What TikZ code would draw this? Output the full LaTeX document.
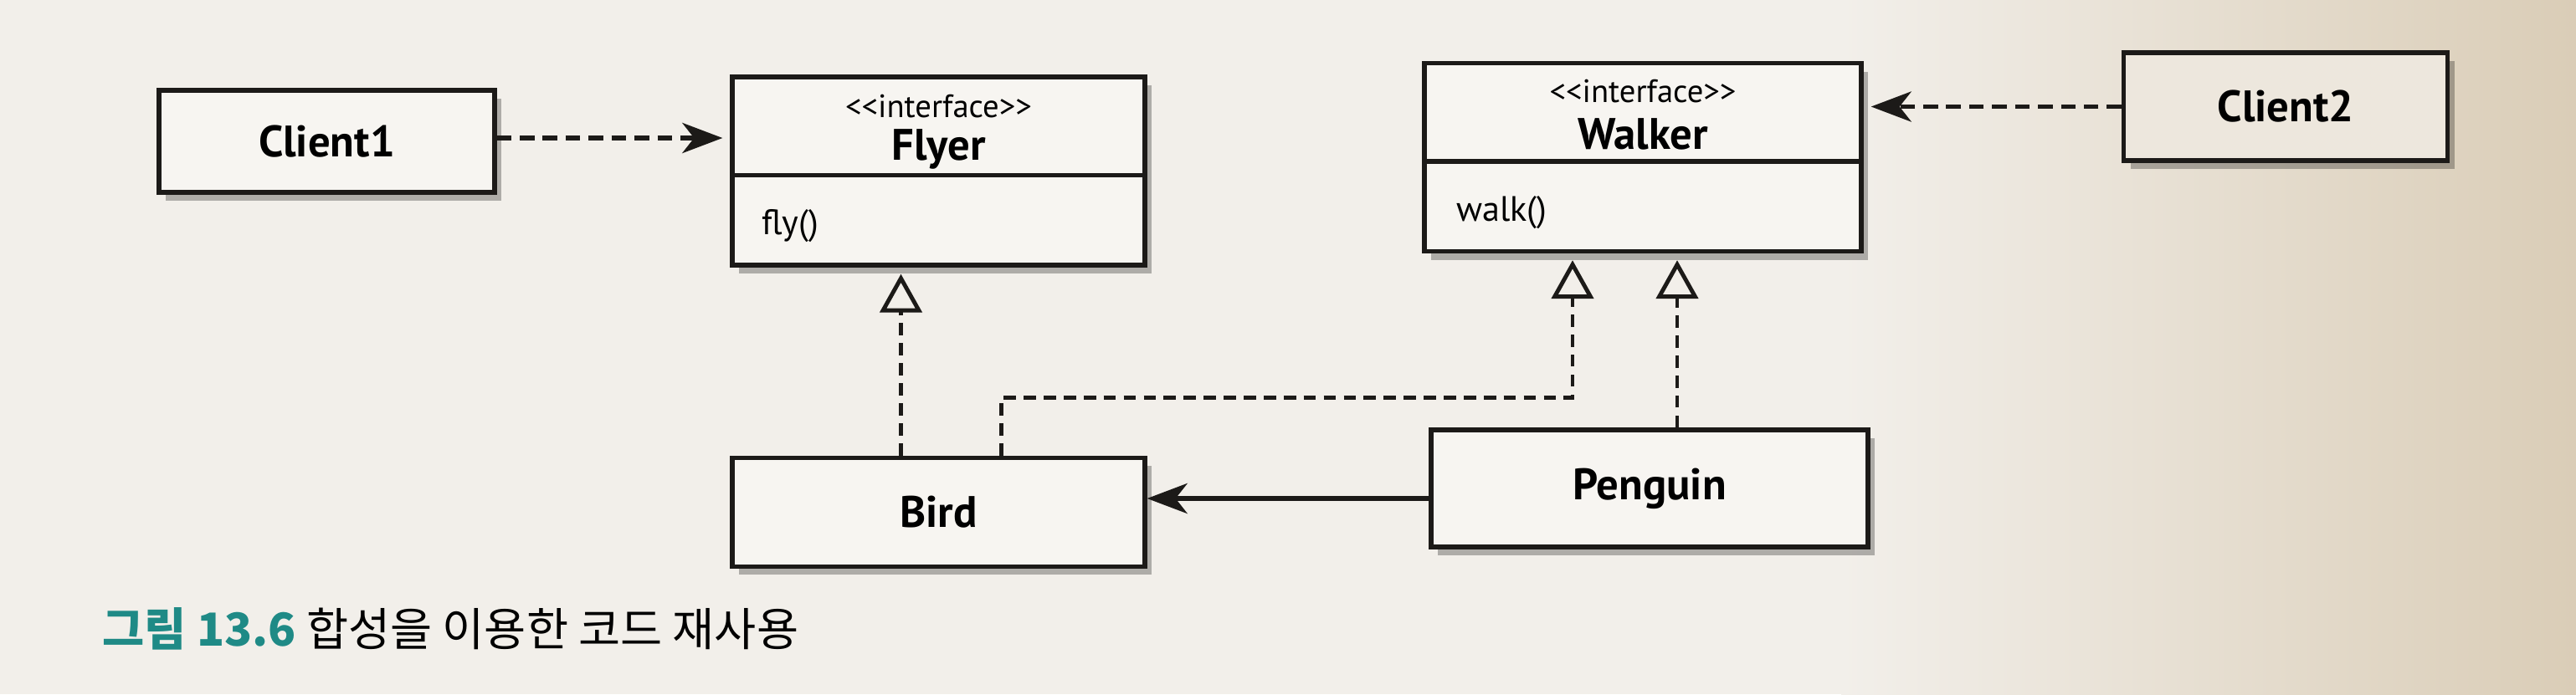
\documentclass[tikz,border=0pt]{standalone}
\usepackage{fontspec}
\setmainfont{PT Sans}
\newfontfamily\krfont{Noto Sans CJK KR}
\usepackage{tikz}
\usetikzlibrary{arrows.meta,positioning,shadows,calc}
\definecolor{paper}{HTML}{F2EFEA}
\definecolor{paperdark}{HTML}{DACDB7}
\definecolor{boxfill}{HTML}{F7F5F1}
\definecolor{ink}{HTML}{1C1A18}
\definecolor{capteal}{HTML}{1F8A86}
\tikzset{
  uml/box/.style={draw=ink, line width=1.5pt, fill=boxfill, minimum width=#1, minimum height=13mm,
    font=\fontsize{15}{18}\selectfont\bfseries,
    drop shadow={shadow xshift=0.8mm, shadow yshift=-1mm, fill=black, opacity=0.28}},
  uml/box/.default=4.93cm,
  uml/iface/.style={uml/box=#1, minimum height=22.5mm},
  uml/iface/.default=4.93cm,
  uml/stereo/.style={inner sep=0pt, font=\fontsize{11}{13}\selectfont},
  uml/name/.style={inner sep=0pt, font=\fontsize{15}{18}\selectfont\bfseries},
  uml/method/.style={inner sep=0pt, anchor=west, font=\fontsize{12}{14}\selectfont},
  uml/line/.style={draw=ink, line width=1.5pt},
  uml/dep/.style={draw=ink, line width=1.7pt, dash pattern=on 5pt off 2.8pt, shorten >=0.9mm,
    -{Stealth[length=4.8mm, width=3.6mm, inset=1.4mm]}},
  uml/real/.style={draw=ink, line width=1.4pt, dash pattern=on 4.2pt off 2.6pt, shorten >=0.8mm,
    -{Triangle[length=4.6mm, width=5mm, fill=paper, line width=1.4pt]}},
  uml/assoc/.style={draw=ink, line width=1.6pt, -{Stealth[length=4.8mm, width=3.6mm, inset=1.4mm]}},
  caption/.style={anchor=base west, inner sep=0pt, font=\krfont\fontsize{15.5}{18}\selectfont}
}

\begin{document}
\begin{tikzpicture}
  % page background
  \useasboundingbox (0,0) rectangle (30.78,8.30);
  \fill[paper] (0,0) rectangle (30.78,8.30);
  \shade[left color=paper, right color=paperdark] (22,0) rectangle (30.78,8.30);

  % classes
  \node[uml/box=4.01cm, minimum height=12.2mm] (client1) at (3.905,6.61) {Client1};
  \node[uml/iface] (flyer) at (11.215,6.255) {};
  \node[uml/iface=5.22cm] (walker) at (19.63,6.42) {};
  \node[uml/box=3.87cm, minimum height=12.9mm, fill=paperdark!35!boxfill] (client2) at (27.31,7.025) {Client2};
  \node[uml/box, below=22.5mm of flyer] (bird) {Bird};
  \node[uml/box=5.22cm, minimum height=14mm] (penguin) at (19.71,2.46) {Penguin};

  % interface compartments
  \draw[uml/line] ([yshift=-0.5mm]flyer.west) -- ([yshift=-0.5mm]flyer.east);
  \draw[uml/line] ([yshift=-0.5mm]walker.west) -- ([yshift=-0.5mm]walker.east);
  \node[uml/stereo] (flyst) at ([yshift=7.7mm]flyer.center) {<{}<interface>{}>};
  \node[uml/name] (flyname) at ([yshift=2.6mm]flyer.center) {Flyer};
  \node[uml/method] (flyop) at ([xshift=3.7mm, yshift=-6.6mm]flyer.west) {fly()};
  \node[uml/stereo] (walkst) at ([yshift=7.9mm]walker.center) {<{}<interface>{}>};
  \node[uml/name] (walkname) at ([yshift=2.8mm]walker.center) {Walker};
  \node[uml/method] (walkop) at ([xshift=4mm, yshift=-6.6mm]walker.west) {walk()};

  % dependencies
  \draw[uml/dep] ([yshift=0.4mm]client1.east) -- ([yshift=0.4mm]client1.east -| flyer.west);
  \draw[uml/dep] (client2.west) -- (client2.west -| walker.east);

  % realizations
  \coordinate (walkL) at ([xshift=-8.4mm]walker.south);
  \draw[uml/real] ([xshift=-4.5mm]bird.north) -- ([xshift=-4.5mm]bird.north |- flyer.south);
  \draw[uml/real] ([xshift=7.5mm]bird.north) -- ++(0,0.69) -| (walkL);
  \draw[uml/real] ([xshift=3.3mm]penguin.north) -- ([xshift=3.3mm]penguin.north |- walker.south);

  % composition
  \draw[uml/assoc] ([yshift=-1.2mm]penguin.west) -- ([yshift=-1.2mm]penguin.west -| bird.east);

  % caption
  \node[caption] (cap) at (1.22,0.58) {{\color{capteal}\bfseries 그림 13.6} 합성을 이용한 코드 재사용};
\end{tikzpicture}
\end{document}
